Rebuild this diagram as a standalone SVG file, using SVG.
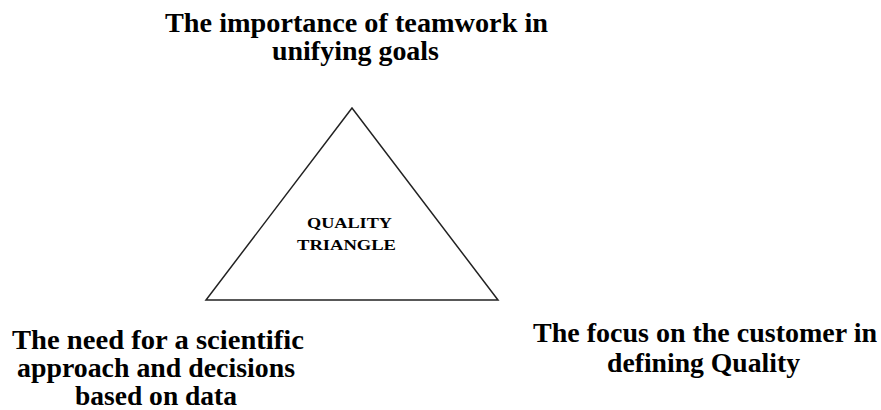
<svg xmlns="http://www.w3.org/2000/svg" width="881" height="410" viewBox="0 0 881 410">
<style>
.t{font-family:"Liberation Serif","Times New Roman",serif;font-weight:bold;font-size:28px;fill:#000;text-anchor:middle}
.s{font-family:"Liberation Serif","Times New Roman",serif;font-weight:bold;font-size:15px;fill:#000;text-anchor:middle}
</style>
<rect width="881" height="410" fill="#fff"/>
<g id="triangle">
<polygon points="352,108 206,300 498,300" fill="#fff" stroke="#222" stroke-width="1.5" stroke-linejoin="miter"/>
<text class="s" x="349.5" y="228" textLength="85" lengthAdjust="spacingAndGlyphs">QUALITY</text>
<text class="s" x="346.5" y="250" textLength="99" lengthAdjust="spacingAndGlyphs">TRIANGLE</text>
</g>
<g id="top-label">
<text class="t" x="356.5" y="32" textLength="383" lengthAdjust="spacingAndGlyphs">The importance of teamwork in</text>
<text class="t" x="355.5" y="60" textLength="167" lengthAdjust="spacingAndGlyphs">unifying goals</text>
</g>
<g id="left-label">
<text class="t" x="158" y="349" textLength="292" lengthAdjust="spacingAndGlyphs">The need for a scientific</text>
<text class="t" x="156" y="377" textLength="278" lengthAdjust="spacingAndGlyphs">approach and decisions</text>
<text class="t" x="156" y="405" textLength="162" lengthAdjust="spacingAndGlyphs">based on data</text>
</g>
<g id="right-label">
<text class="t" x="705" y="342" textLength="344" lengthAdjust="spacingAndGlyphs">The focus on the customer in</text>
<text class="t" x="703.5" y="372" textLength="193" lengthAdjust="spacingAndGlyphs">defining Quality</text>
</g>
<g id="connectors"></g>
</svg>
